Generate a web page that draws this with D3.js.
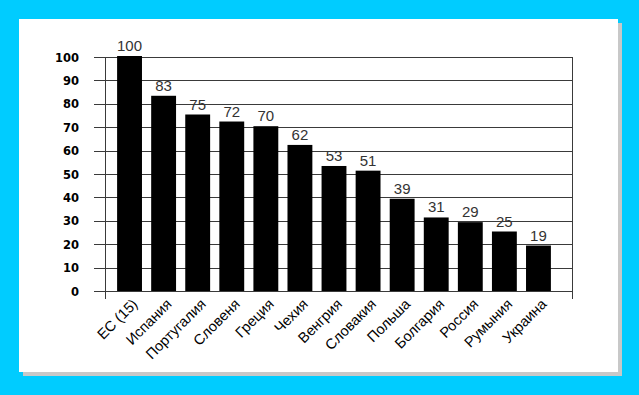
<!DOCTYPE html>
<html>
<head>
<meta charset="utf-8">
<script src="https://cdn.jsdelivr.net/npm/d3@7"></script>
<style>
  html, body { margin: 0; padding: 0; background: #00ccff; }
  svg { display: block; }
</style>
</head>
<body>
<svg id="chart" width="639" height="395"></svg>
<script>
const countries = ['ЕС (15)', 'Испания', 'Португалия', 'Словеня', 'Греция', 'Чехия', 'Венгрия',
    'Словакия', 'Польша', 'Болгария', 'Россия', 'Румыния', 'Украина'];
const values = [100, 83, 75, 72, 70, 62, 53, 51, 39, 31, 29, 25, 19];
const yTicks = [0, 10, 20, 30, 40, 50, 60, 70, 80, 90, 100];

const svg = d3.select('#chart');

// panel with shadow
svg.append('rect').attr('x', 23).attr('y', 23).attr('width', 599).attr('height', 353).attr('fill', '#c8c8c8');
svg.append('rect').attr('x', 19).attr('y', 19).attr('width', 599).attr('height', 353).attr('fill', '#ffffff');

const plot = { left: 105, right: 572, top: 57, bottom: 291 };

const x = d3.scaleBand()
    .domain(countries)
    .range([112.5, 555.5])
    .paddingInner(0.27)
    .paddingOuter(0.135);

const y = d3.scaleLinear()
    .domain([0, 100])
    .range([plot.bottom, plot.top]);

// gridlines with left ticks
svg.append('g')
    .selectAll('line')
    .data(yTicks)
    .join('line')
    .attr('x1', plot.left - 11)
    .attr('x2', plot.right)
    .attr('y1', d => Math.round(y(d)) + 0.5)
    .attr('y2', d => Math.round(y(d)) + 0.5)
    .attr('stroke', '#3a3a3a')
    .attr('stroke-width', 1);

// left and right vertical lines
[plot.left, plot.right].forEach(px => {
    svg.append('line')
        .attr('x1', px + 0.5).attr('x2', px + 0.5)
        .attr('y1', plot.top).attr('y2', plot.bottom + 8)
        .attr('stroke', '#3a3a3a');
});

// y tick labels
svg.append('g')
    .selectAll('text')
    .data(yTicks)
    .join('text')
    .attr('x', 79)
    .attr('y', d => y(d) + 4.5)
    .attr('text-anchor', 'end')
    .attr('font-family', 'DejaVu Sans, sans-serif')
    .attr('font-weight', 'bold')
    .attr('font-size', 11.5)
    .attr('fill', '#000')
    .text(d => d);

// bars
svg.append('g')
    .selectAll('rect')
    .data(values)
    .join('rect')
    .attr('x', (d, i) => x(countries[i]))
    .attr('width', x.bandwidth())
    .attr('y', d => y(d) - 1)
    .attr('height', d => plot.bottom - y(d) + 1)
    .attr('fill', '#000');

// value labels
svg.append('g')
    .selectAll('text')
    .data(values)
    .join('text')
    .attr('x', (d, i) => x(countries[i]) + x.bandwidth() / 2)
    .attr('y', d => y(d) - 6)
    .attr('text-anchor', 'middle')
    .attr('font-family', 'Liberation Sans, Arial, sans-serif')
    .attr('font-size', 15)
    .attr('fill', '#333')
    .text(d => d);

// category labels, rotated
svg.append('g')
    .selectAll('text')
    .data(countries)
    .join('text')
    .attr('transform', d => `translate(${x(d) + x.bandwidth() / 2 + 9},${plot.bottom + 14}) rotate(-45)`)
    .attr('text-anchor', 'end')
    .attr('font-family', 'Liberation Sans, Arial, sans-serif')
    .attr('font-size', 14.5)
    .attr('fill', '#000')
    .text(d => d);
</script>
</body>
</html>
